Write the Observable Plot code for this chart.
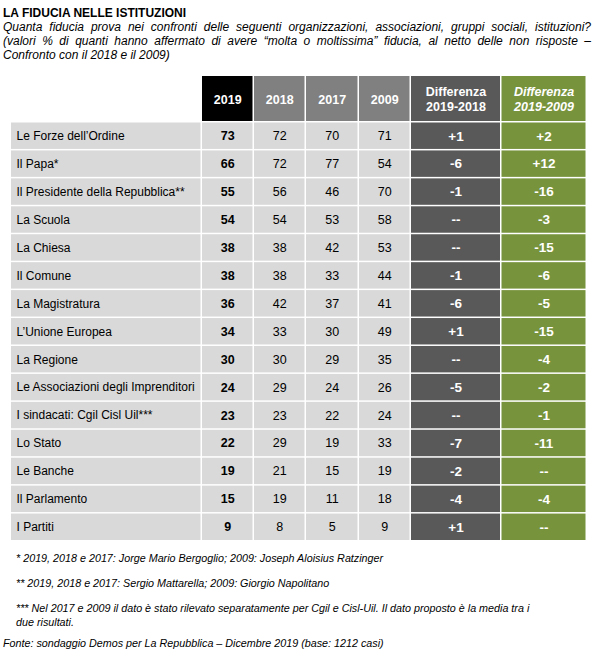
<!DOCTYPE html>
<html>
<head>
<meta charset="utf-8">
<script src="https://cdn.jsdelivr.net/npm/d3@7"></script>
<script src="https://cdn.jsdelivr.net/npm/@observablehq/plot@0.6"></script>
<style>
  html, body { margin: 0; padding: 0; background: #fff; }
  body { width: 600px; height: 657px; position: relative; overflow: hidden;
         font-family: Arial, "Liberation Sans", sans-serif; color: #000; }
  .abs { position: absolute; }
  #title { left: 3px; top: 6px; font-size: 12px; font-weight: bold; line-height: 14px; }
  .sub { left: 3px; width: 588px; font-size: 12px; font-style: italic; line-height: 14px; }
  .j { text-align: justify; text-align-last: justify; }
  .foot { left: 16px; font-size: 10.75px; font-style: italic; line-height: 14px; }
  #hdr { left: 0; top: 70px; }
  #body { left: 0; top: 121px; }
  svg { display: block; }
</style>
</head>
<body>
<div id="title" class="abs">LA FIDUCIA NELLE ISTITUZIONI</div>
<div class="abs sub j" style="top:20px">Quanta fiducia prova nei confronti delle seguenti organizzazioni, associazioni, gruppi sociali, istituzioni?</div>
<div class="abs sub j" style="top:34px">(valori % di quanti hanno affermato di avere “molta o moltissima” fiducia, al netto delle non risposte –</div>
<div class="abs sub" style="top:48px">Confronto con il 2018 e il 2009)</div>
<div id="hdr" class="abs"></div>
<div id="body" class="abs"></div>
<div class="abs foot" style="top:551px">* 2019, 2018 e 2017: Jorge Mario Bergoglio; 2009: Joseph Aloisius Ratzinger</div>
<div class="abs foot" style="top:576px">** 2019, 2018 e 2017: Sergio Mattarella; 2009: Giorgio Napolitano</div>
<div class="abs foot" style="top:601px">*** Nel 2017 e 2009 il dato è stato rilevato separatamente per Cgil e Cisl-Uil. Il dato proposto è la media tra i<br>due risultati.</div>
<div class="abs foot" style="top:636px;left:3px">Fonte: sondaggio Demos per La Repubblica – Dicembre 2019 (base: 1212 casi)</div>
<script>
// ---- data ----
const institutions = [
  "Le Forze dell’Ordine", "Il Papa*", "Il Presidente della Repubblica**", "La Scuola",
  "La Chiesa", "Il Comune", "La Magistratura", "L’Unione Europea", "La Regione",
  "Le Associazioni degli Imprenditori", "I sindacati: Cgil Cisl Uil***", "Lo Stato",
  "Le Banche", "Il Parlamento", "I Partiti"
];
const v2019 = [73, 66, 55, 54, 38, 38, 36, 34, 30, 24, 23, 22, 19, 15, 9];
const v2018 = [72, 72, 56, 54, 38, 38, 42, 33, 30, 29, 23, 29, 21, 19, 8];
const v2017 = [70, 77, 46, 53, 42, 33, 37, 30, 29, 24, 22, 19, 15, 11, 5];
const v2009 = [71, 54, 70, 58, 53, 44, 41, 49, 35, 26, 24, 33, 19, 18, 9];
const diff2018 = ["+1", "-6", "-1", "--", "--", "-1", "-6", "+1", "--", "-5", "--", "-7", "-2", "-4", "+1"];
const diff2009 = ["+2", "+12", "-16", "-3", "-15", "-6", "-5", "-15", "-4", "-2", "-1", "-11", "--", "-4", "--"];
const columnKeys = ["label", "2019", "2018", "2017", "2009", "d1", "d2"];
const headerLabels = ["", "2019", "2018", "2017", "2009", "Differenza\n2019-2018", "Differenza\n2019-2009"];

// ---- layout (pixel geometry, not data) ----
const edges = {label: [11, 202], "2019": [202, 254], "2018": [254, 306], "2017": [306, 359],
               "2009": [359, 411], d1: [411, 501.5], d2: [501.5, 587]};
const headerFill = {"2019": "#000000", "2018": "#808080", "2017": "#808080", "2009": "#808080", d1: "#595959", d2: "#77933c"};
const bodyFill = {label: "#d9d9d9", "2019": "#d9d9d9", "2018": "#d9d9d9", "2017": "#d9d9d9", "2009": "#d9d9d9", d1: "#595959", d2: "#77933c"};
const font = "Arial, 'Liberation Sans', sans-serif";
const cx = d => (edges[d.k][0] + edges[d.k][1] - 1.5) / 2;

// header
const hdrCells = columnKeys.slice(1).map((k, i) => ({k, label: headerLabels[i + 1], row: "h"}));
const hdr = Plot.plot({
  width: 600, height: 51, margin: 0, marginTop: 6,
  x: {type: "linear", domain: [0, 600], range: [0, 600], axis: null},
  y: {type: "band", domain: ["h"], padding: 0, round: false, axis: null},
  style: {fontFamily: font, fontSize: "12px", background: "transparent"},
  marks: [
    Plot.barX(hdrCells, {x1: d => edges[d.k][0], x2: d => edges[d.k][1], y: "row",
      fill: d => headerFill[d.k], insetRight: 1.5}),
    Plot.text(hdrCells.filter(d => d.k !== "d2"), {x: cx, y: "row", text: "label",
      fill: "#fff", fontWeight: "bold", fontSize: 12.5, lineHeight: 1.15}),
    Plot.text(hdrCells.filter(d => d.k === "d2"), {x: cx, y: "row", text: "label",
      fill: "#fff", fontWeight: "bold", fontStyle: "italic", fontSize: 12.5, lineHeight: 1.15})
  ]
});
document.getElementById("hdr").appendChild(hdr);

// body
const cells = [];
institutions.forEach((name, i) => {
  const vals = {label: name, "2019": v2019[i], "2018": v2018[i], "2017": v2017[i], "2009": v2009[i], d1: diff2018[i], d2: diff2009[i]};
  columnKeys.forEach(k => cells.push({k, inst: name, text: String(vals[k])}));
});
const body = Plot.plot({
  width: 600, height: 419, margin: 0,
  x: {type: "linear", domain: [0, 600], range: [0, 600], axis: null},
  y: {type: "band", domain: institutions, padding: 0, round: false, axis: null},
  style: {fontFamily: font, fontSize: "12px", background: "transparent"},
  marks: [
    Plot.barX(cells, {x1: d => edges[d.k][0], x2: d => edges[d.k][1], y: "inst",
      fill: d => bodyFill[d.k], insetRight: 1.5, insetTop: 1.5}),
    Plot.text(cells.filter(d => d.k === "label"), {x: d => edges[d.k][0] + 5, y: "inst", text: "text",
      textAnchor: "start", fill: "#000", fontSize: 12, dy: 0.75}),
    Plot.text(cells.filter(d => d.k === "2019"), {x: cx, y: "inst", text: "text", dy: 0.75,
      fill: "#000", fontWeight: "bold", fontSize: 12.5}),
    Plot.text(cells.filter(d => ["2018", "2017", "2009"].includes(d.k)), {x: cx, y: "inst", text: "text", dy: 0.75,
      fill: "#000", fontSize: 12.5}),
    Plot.text(cells.filter(d => d.k === "d1" || d.k === "d2"), {x: cx, y: "inst", text: "text", dy: 0.75,
      fill: "#fff", fontWeight: "bold", fontSize: 13.5})
  ]
});
document.getElementById("body").appendChild(body);
</script>
</body>
</html>
